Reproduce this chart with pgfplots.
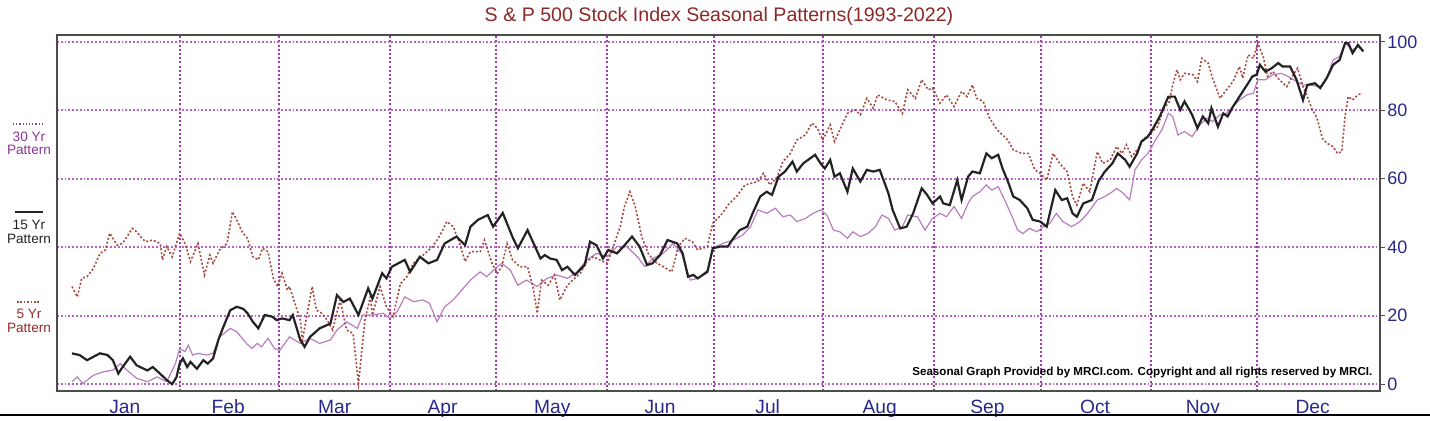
\documentclass[border=0pt]{standalone}
\usepackage{fontspec}
\setmainfont{Liberation Sans}
\usepackage{pgfplots}
\pgfplotsset{compat=1.18}

\definecolor{navy}{RGB}{40,40,140}
\definecolor{titlered}{RGB}{140,40,40}
\definecolor{gridH}{RGB}{185,95,200}
\definecolor{gridV}{RGB}{160,60,175}
\definecolor{c30}{RGB}{185,125,190}
\definecolor{c30text}{RGB}{140,50,150}
\definecolor{c15}{RGB}{35,35,35}
\definecolor{c5}{RGB}{165,75,65}
\definecolor{c5text}{RGB}{150,40,40}

\begin{document}
\begin{tikzpicture}
\useasboundingbox (-28.5pt,-15pt) rectangle (686.5pt,195.5pt);
\begin{axis}[
  at={(0pt,0pt)}, anchor=south west,
  scale only axis,
  width=661.5pt, height=178pt,
  xmin=-0.139, xmax=12.145,
  ymin=-2, ymax=102,
  xtick={0.49,1.45,2.44,3.44,4.46,5.46,6.46,7.50,8.50,9.50,10.50,11.52},
  xticklabels={Jan,Feb,Mar,Apr,May,Jun,Jul,Aug,Sep,Oct,Nov,Dec},
  minor xtick={1.00,1.925,2.953,3.937,4.965,5.961,6.976,8.004,8.994,10.016,11.0},
  ytick={0,20,40,60,80,100},
  xminorgrids, ymajorgrids,
  major grid style={gridH, line width=0.9pt, densely dotted},
  minor grid style={gridV, line width=1pt, dash pattern=on 1pt off 1.1pt},
  xtick pos=bottom, ytick pos=right, yticklabel pos=right,
  tick align=outside, major tick length=2.5pt, minor tick length=0pt,
  xtick style={draw=none},
  ytick style={black!70, line width=0.6pt},
  axis line style={black!70, line width=0.9pt},
  /pgf/number format/assume math mode=true,
  yticklabel style={font=\fontsize{9}{10}\selectfont, text=navy, inner sep=1pt},
  xticklabel style={font=\fontsize{9.6}{11}\selectfont, text=navy, anchor=center,
    yshift=-6.5pt, text height=7pt, text depth=2pt},
]
% 30 Yr pattern
\addplot[c30, line width=0.6pt] coordinates {
(0.00,0.7) (0.05,2.1) (0.10,0.2) (0.20,2.6) (0.29,3.6) (0.38,4.1) (0.45,6.0)
(0.51,4.1) (0.60,1.7) (0.70,0.7) (0.79,2.1) (0.88,0.7) (0.96,6.0) (1.00,10.4)
(1.05,9.5) (1.08,11.4) (1.12,8.5) (1.17,9.0) (1.25,8.5) (1.31,9.0) (1.37,13.8)
(1.47,16.3) (1.53,15.3) (1.62,11.9) (1.67,10.4) (1.72,11.9) (1.76,10.9) (1.82,13.4)
(1.88,10.4) (1.93,9.9) (2.02,13.8) (2.12,11.9) (2.21,13.4) (2.30,11.9) (2.40,12.9)
(2.46,15.8) (2.55,18.2) (2.65,16.3) (2.70,20.2) (2.79,20.2) (2.89,20.7) (2.95,19.2)
(3.02,21.2) (3.09,25.5) (3.17,24.1) (3.26,24.6) (3.32,23.6) (3.39,18.2) (3.46,22.6)
(3.54,24.6) (3.62,27.5) (3.70,30.4) (3.79,32.8) (3.85,31.4) (3.95,34.3) (3.99,35.3)
(4.07,33.3) (4.14,28.9) (4.22,30.4) (4.32,28.5) (4.41,30.9) (4.50,31.9) (4.60,30.9)
(4.69,32.8) (4.78,36.3) (4.87,38.2) (4.97,37.2) (5.06,40.2) (5.15,40.2) (5.25,37.2)
(5.32,34.3) (5.39,36.7) (5.49,38.2) (5.58,41.1) (5.66,38.2) (5.74,30.4) (5.81,30.9)
(5.90,33.3) (5.95,39.7) (6.04,41.1) (6.14,42.1) (6.23,43.6) (6.30,46.0) (6.37,50.9)
(6.45,49.9) (6.53,51.4) (6.60,48.9) (6.67,49.4) (6.73,47.5) (6.81,48.4) (6.88,49.9)
(6.95,50.9) (7.01,49.4) (7.07,45.0) (7.13,44.5) (7.20,42.6) (7.25,44.5) (7.32,43.1)
(7.39,44.0) (7.46,46.0) (7.52,49.4) (7.58,48.4) (7.64,45.0) (7.71,46.0) (7.76,49.4)
(7.85,48.9) (7.92,45.0) (7.99,48.4) (8.06,49.9) (8.12,48.9) (8.19,51.9) (8.26,48.4)
(8.32,52.8) (8.36,54.8) (8.43,56.2) (8.49,58.2) (8.54,56.7) (8.60,57.7) (8.66,53.8)
(8.73,48.9) (8.78,45.0) (8.83,44.0) (8.89,45.5) (8.96,44.5) (9.02,46.0) (9.08,47.0)
(9.14,49.9) (9.20,47.5) (9.28,46.0) (9.36,47.5) (9.43,49.9) (9.52,53.8) (9.59,54.8)
(9.66,56.2) (9.70,57.2) (9.76,55.8) (9.82,53.8) (9.87,62.6) (9.93,65.5) (9.99,67.4)
(10.06,71.3) (10.12,74.3) (10.18,79.1) (10.22,78.2) (10.27,72.8) (10.33,73.8) (10.40,72.3)
(10.47,75.7) (10.54,77.7) (10.59,76.7) (10.66,78.7) (10.72,79.1) (10.78,81.1) (10.84,83.0)
(10.91,84.5) (10.97,85.0) (11.01,88.9) (11.08,88.9) (11.15,90.4) (11.23,90.8) (11.29,89.9)
(11.37,88.4) (11.43,87.4) (11.49,87.4) (11.59,86.9) (11.65,89.4) (11.71,94.7) (11.77,95.7)
(11.82,99.6) (11.89,97.7) (11.94,98.6) (11.98,97.7)
};
% 5 Yr pattern
\addplot[c5, line width=0.8pt, dash pattern=on 1pt off 1pt] coordinates {
(0.00,28.5) (0.05,25.5) (0.09,30.9) (0.14,31.4) (0.20,33.8) (0.26,38.2) (0.31,39.2)
(0.35,44.1) (0.42,40.6) (0.47,41.1) (0.56,45.5) (0.60,44.5) (0.68,41.6) (0.75,42.1)
(0.82,41.1) (0.84,36.3) (0.88,40.2) (0.93,37.2) (1.00,44.1) (1.05,41.1) (1.10,35.8)
(1.17,41.1) (1.23,31.9) (1.28,37.7) (1.31,35.3) (1.37,39.2) (1.44,41.1) (1.49,50.4)
(1.53,48.0) (1.58,44.5) (1.63,42.6) (1.68,37.2) (1.73,36.3) (1.77,39.7) (1.82,38.7)
(1.87,30.9) (1.91,28.5) (1.95,32.4) (2.00,27.5) (2.02,28.5) (2.12,18.7) (2.14,12.9)
(2.23,28.5) (2.27,21.6) (2.32,20.7) (2.37,18.7) (2.42,15.8) (2.49,24.6) (2.55,15.8)
(2.61,14.8) (2.66,0.2) (2.72,18.7) (2.77,25.5) (2.79,20.2) (2.86,28.5) (2.92,22.6)
(2.98,19.7) (3.05,29.4) (3.11,31.4) (3.17,35.3) (3.26,37.7) (3.35,40.2) (3.42,43.6)
(3.48,47.5) (3.54,46.0) (3.60,41.1) (3.65,35.8) (3.70,38.7) (3.79,38.7) (3.83,42.1)
(3.90,35.3) (3.95,32.4) (3.99,34.3) (4.04,41.1) (4.09,36.3) (4.16,34.3) (4.23,34.3)
(4.28,28.5) (4.32,20.7) (4.36,30.4) (4.42,28.9) (4.48,31.9) (4.53,24.6) (4.60,28.9)
(4.65,30.4) (4.72,32.4) (4.78,35.8) (4.84,37.2) (4.90,36.3) (4.97,35.3) (5.02,39.7)
(5.09,46.0) (5.13,51.9) (5.18,56.2) (5.23,51.9) (5.29,43.1) (5.35,38.2) (5.41,35.8)
(5.49,34.3) (5.57,32.8) (5.63,40.2) (5.69,42.6) (5.76,41.6) (5.81,39.2) (5.90,40.2)
(5.95,47.0) (6.04,49.9) (6.09,52.3) (6.17,54.8) (6.25,58.2) (6.31,58.7) (6.37,59.2)
(6.42,61.6) (6.48,58.2) (6.55,60.6) (6.60,65.0) (6.67,67.4) (6.73,71.3) (6.81,72.8)
(6.87,76.2) (6.92,74.8) (6.97,71.3) (7.04,75.7) (7.08,70.9) (7.15,75.7) (7.20,79.1)
(7.27,80.1) (7.32,78.7) (7.38,83.5) (7.44,80.6) (7.48,84.5) (7.57,83.0) (7.64,82.6)
(7.71,79.1) (7.76,86.0) (7.83,83.5) (7.89,88.9) (7.95,86.0) (7.99,86.5) (8.06,82.1)
(8.12,84.5) (8.19,81.1) (8.26,85.5) (8.31,84.0) (8.36,87.4) (8.40,83.5) (8.46,82.6)
(8.52,77.7) (8.59,74.3) (8.64,72.8) (8.69,71.3) (8.74,68.4) (8.82,67.4) (8.88,67.4)
(8.94,62.6) (8.99,61.6) (9.05,59.6) (9.11,67.4) (9.17,64.5) (9.24,62.1) (9.29,54.8)
(9.33,52.3) (9.39,58.7) (9.45,56.2) (9.52,67.9) (9.57,64.5) (9.64,65.5) (9.70,69.4)
(9.75,67.4) (9.79,69.9) (9.84,66.5) (9.90,68.9) (9.96,71.8) (10.03,73.8) (10.08,75.2)
(10.13,80.1) (10.19,82.6) (10.22,87.4) (10.26,91.8) (10.29,88.9) (10.33,90.8) (10.41,90.4)
(10.45,88.4) (10.49,95.2) (10.55,93.8) (10.59,89.4) (10.66,83.5) (10.72,86.0) (10.78,88.4)
(10.84,92.8) (10.87,89.4) (10.92,96.2) (10.97,95.2) (11.01,99.6) (11.06,95.7) (11.10,89.9)
(11.15,91.3) (11.21,88.9) (11.28,86.9) (11.34,90.4) (11.38,92.3) (11.43,86.9) (11.47,84.0)
(11.51,80.6) (11.56,77.7) (11.61,71.8) (11.65,70.4) (11.71,69.4) (11.75,67.4) (11.79,67.9)
(11.82,78.2) (11.85,84.0) (11.89,83.0) (11.94,84.5) (11.98,85.0)
};
% 15 Yr pattern
\addplot[c15, line width=1.1pt] coordinates {
(0.00,9.0) (0.07,8.5) (0.14,7.0) (0.26,9.0) (0.33,8.5) (0.38,7.0) (0.43,3.1)
(0.47,5.0) (0.54,8.0) (0.60,5.5) (0.70,4.0) (0.75,5.0) (0.82,3.0) (0.88,1.2)
(0.93,0.0) (0.97,2.0) (1.00,6.0) (1.03,7.5) (1.07,5.0) (1.10,6.5) (1.16,4.5)
(1.22,7.0) (1.26,6.0) (1.31,7.5) (1.36,13.0) (1.40,16.3) (1.47,21.6) (1.53,22.6)
(1.59,22.0) (1.63,20.7) (1.68,18.2) (1.73,16.3) (1.79,20.2) (1.86,19.7) (1.90,18.7)
(1.95,19.2) (2.02,18.7) (2.05,20.2) (2.12,12.9) (2.16,10.9) (2.21,13.8) (2.30,16.3)
(2.40,17.7) (2.46,26.0) (2.52,24.0) (2.58,25.0) (2.66,20.2) (2.75,28.0) (2.79,25.0)
(2.88,32.4) (2.92,30.9) (2.97,34.3) (3.09,36.3) (3.14,32.8) (3.23,37.2) (3.31,35.3)
(3.39,36.3) (3.46,41.1) (3.57,43.1) (3.65,40.6) (3.70,46.0) (3.77,48.0) (3.86,49.4)
(3.91,46.0) (4.00,50.0) (4.09,43.0) (4.14,39.7) (4.23,45.0) (4.35,36.7) (4.39,37.7)
(4.44,36.7) (4.50,36.3) (4.55,33.3) (4.60,34.3) (4.67,31.9) (4.76,34.8) (4.81,41.6)
(4.87,40.6) (4.93,36.7) (4.98,39.2) (5.06,38.2) (5.12,40.2) (5.20,43.1) (5.27,40.2)
(5.34,34.8) (5.39,35.3) (5.46,37.7) (5.53,42.1) (5.62,41.1) (5.67,38.2) (5.72,31.4)
(5.77,31.9) (5.81,30.9) (5.90,32.8) (5.95,39.7) (6.02,40.2) (6.09,40.2) (6.14,42.6)
(6.20,45.0) (6.27,46.0) (6.32,49.9) (6.39,54.8) (6.45,56.2) (6.50,55.3) (6.56,60.6)
(6.62,62.1) (6.69,65.0) (6.73,62.1) (6.79,64.5) (6.90,67.0) (6.95,64.5) (6.99,63.0)
(7.04,65.5) (7.08,60.6) (7.13,61.6) (7.20,56.2) (7.25,63.0) (7.32,59.2) (7.38,62.6)
(7.44,62.1) (7.50,62.6) (7.58,55.8) (7.62,50.9) (7.69,45.5) (7.75,46.0) (7.81,49.9)
(7.89,57.2) (7.94,55.3) (7.99,52.8) (8.06,54.8) (8.09,52.8) (8.15,52.3) (8.22,59.6)
(8.26,53.8) (8.32,60.6) (8.36,62.1) (8.43,61.6) (8.49,67.4) (8.54,66.0) (8.60,67.0)
(8.64,63.0) (8.69,59.2) (8.74,54.8) (8.80,53.8) (8.87,51.4) (8.92,48.0) (8.99,47.5)
(9.05,46.0) (9.13,56.7) (9.19,53.8) (9.24,54.3) (9.29,49.9) (9.33,48.9) (9.39,52.8)
(9.47,53.8) (9.53,59.2) (9.59,62.1) (9.66,64.5) (9.71,67.4) (9.78,65.5) (9.82,63.5)
(9.89,67.4) (9.93,70.9) (9.99,72.3) (10.04,74.8) (10.10,78.2) (10.18,84.0) (10.24,84.0)
(10.29,80.1) (10.33,82.6) (10.40,78.7) (10.45,74.8) (10.50,78.2) (10.55,76.2) (10.58,80.6)
(10.64,75.2) (10.69,79.1) (10.73,78.2) (10.78,81.1) (10.84,84.0) (10.91,87.4) (10.96,89.9)
(11.00,90.4) (11.03,93.3) (11.08,91.3) (11.14,92.3) (11.20,93.8) (11.24,92.8) (11.31,92.8)
(11.37,88.9) (11.43,83.0) (11.47,87.4) (11.54,87.9) (11.59,86.5) (11.65,89.4) (11.71,93.3)
(11.77,94.7) (11.82,99.6) (11.85,99.6) (11.89,96.7) (11.94,99.1) (11.99,97.2)
};
\node[anchor=east, font=\bfseries\fontsize{5.8}{7}\selectfont, inner sep=0pt]
  at (rel axis cs:0.9945,0.053) {Seasonal Graph Provided by MRCI.com. Copyright and all rights reserved by MRCI.};
\end{axis}

% title
\node[font=\fontsize{9.8}{11}\selectfont, text=titlered] at (331pt,187.5pt)
  {S \& P 500 Stock Index Seasonal Patterns(1993-2022)};

% pattern key on the left
\draw[gridV, line width=0.6pt, densely dotted] (-22pt,133.5pt) -- (-7.5pt,133.5pt);
\node[font=\fontsize{6.8}{8}\selectfont, text=c30text, inner sep=0pt] at (-14pt,127pt) {30 Yr};
\node[font=\fontsize{6.8}{8}\selectfont, text=c30text, inner sep=0pt] at (-14pt,120.5pt) {Pattern};
\draw[c15, line width=0.8pt] (-21pt,89.5pt) -- (-7pt,89.5pt);
\node[font=\fontsize{6.8}{8}\selectfont, text=c15, inner sep=0pt] at (-14pt,83pt) {15 Yr};
\node[font=\fontsize{6.8}{8}\selectfont, text=c15, inner sep=0pt] at (-14pt,76pt) {Pattern};
\draw[c5, line width=0.7pt, dash pattern=on 0.8pt off 0.9pt] (-20pt,44.5pt) -- (-8.5pt,44.5pt);
\node[font=\fontsize{6.8}{8}\selectfont, text=c5text, inner sep=0pt] at (-14pt,38.5pt) {5 Yr};
\node[font=\fontsize{6.8}{8}\selectfont, text=c5text, inner sep=0pt] at (-14pt,31.5pt) {Pattern};

% rule along the bottom
\draw[black, line width=1.4pt] (-28.5pt,-12pt) -- (686.5pt,-12pt);
\end{tikzpicture}
\end{document}
